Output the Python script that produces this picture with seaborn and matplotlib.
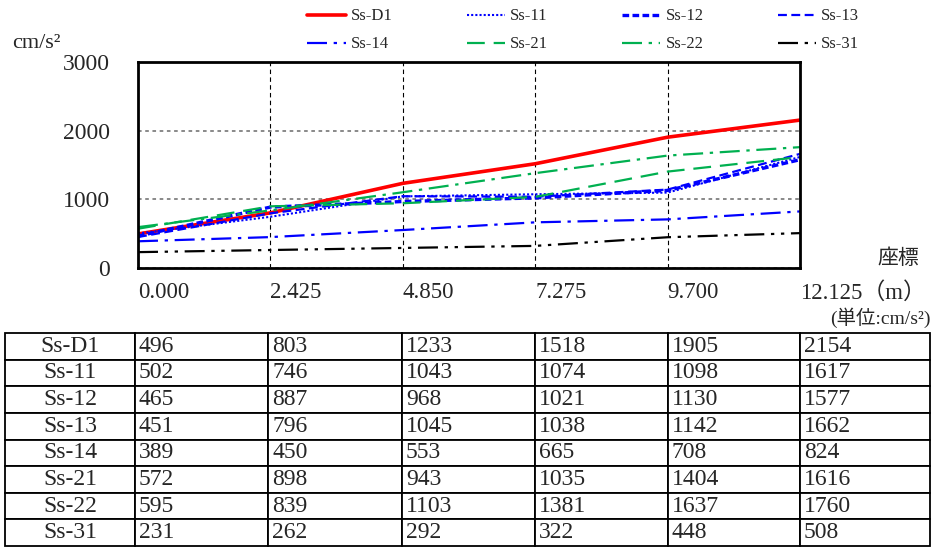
import numpy as np
import seaborn as sns
import matplotlib.pyplot as plt

# data
coords = ['0.000', '2.425', '4.850', '7.275', '9.700', '12.125（m）']
names = ['Ss-D1', 'Ss-11', 'Ss-12', 'Ss-13', 'Ss-14', 'Ss-21', 'Ss-22', 'Ss-31']
ss_d1 = [496, 803, 1233, 1518, 1905, 2154]
ss_11 = [502, 746, 1043, 1074, 1098, 1617]
ss_12 = [465, 887, 968, 1021, 1130, 1577]
ss_13 = [451, 796, 1045, 1038, 1142, 1662]
ss_14 = [389, 450, 553, 665, 708, 824]
ss_21 = [572, 898, 943, 1035, 1404, 1616]
ss_22 = [595, 839, 1103, 1381, 1637, 1760]
ss_31 = [231, 262, 292, 322, 448, 508]
values = [ss_d1, ss_11, ss_12, ss_13, ss_14, ss_21, ss_22, ss_31]

blue = '#0000FF'
green = '#00B050'
styles = [
    ('#FF0000', '-', 2.6),
    (blue, (0, (1, 1)), 1.5),
    (blue, (0, (2, 1)), 2.4),
    (blue, (0, (4, 2)), 1.6),
    (blue, (0, (9, 3, 1.5, 3)), 1.6),
    (green, (0, (8, 4)), 1.6),
    (green, (0, (9, 3, 1.5, 3)), 1.6),
    ('black', (0, (9, 3, 1.5, 3, 1.5, 3)), 1.6),
]

sns.set_style('white')
plt.rcParams['font.family'] = ['Liberation Serif', 'Noto Sans CJK JP']

fig = plt.figure(figsize=(9.33, 5.52), dpi=100)
ax = fig.add_axes([138 / 933, 1 - 268 / 552, 662 / 933, 206 / 552])

x = np.arange(len(coords))
for name, vals, (c, ls, lw) in zip(names, values, styles):
    sns.lineplot(x=x, y=vals, ax=ax, color=c, linestyle=ls, linewidth=lw, label=name)
if ax.get_legend():
    ax.get_legend().remove()

ax.set_xlim(0, 5)
ax.set_ylim(0, 3000)
ax.set_xticks(x)
ax.set_xticklabels(coords, ha='left', fontsize=16.5)
ax.set_yticks([0, 1000, 2000, 3000])
ax.set_yticklabels(['0', '1000', '2000', '3000'], fontsize=17)
ax.tick_params(axis='x', length=0, pad=10)
ax.tick_params(axis='y', length=0, pad=20)
ax.xaxis.grid(True, color='black', linestyle=(0, (4, 3)), linewidth=0.8)
ax.yaxis.grid(True, color='gray', linestyle=(0, (2, 2)), linewidth=1.3)
for s in ax.spines.values():
    s.set_color('black')
    s.set_linewidth(2)

# legend, row-major order
lines = ax.get_lines()[:len(names)]
order = [0, 4, 1, 5, 2, 6, 3, 7]
fig.legend([lines[i] for i in order], [names[i] for i in order],
           loc='upper left', bbox_to_anchor=(304 / 933, 1 - 5 / 552), ncol=4,
           frameon=False, fontsize=12, handlelength=2.3, handletextpad=0.3,
           columnspacing=4.45, labelspacing=0.72, borderaxespad=0, borderpad=0.2)

fig.text(12 / 933, 1 - 44 / 552, 'cm/s²', fontsize=16, va='center')
fig.text(898 / 933, 1 - 259 / 552, '座標', fontsize=15, ha='center', va='center')
fig.text(931 / 933, 1 - 318 / 552, '(単位:cm/s²)', fontsize=14, ha='right', va='center')

# table below
tax = fig.add_axes([5 / 933, 1 - 546 / 552, 925 / 933, 213 / 552])
tax.axis('off')
cell_text = [[n] + [str(v) for v in vals] for n, vals in zip(names, values)]
widths = [130, 133, 134, 133, 133, 132, 130]
tbl = tax.table(cellText=cell_text, colWidths=[w / sum(widths) for w in widths],
                bbox=[0, 0, 1, 1], cellLoc='left')
tbl.auto_set_font_size(False)
tbl.set_fontsize(17)
for (r, c), cell in tbl.get_celld().items():
    cell.set_linewidth(1.3)
    cell.PAD = 0.03
    if c == 0:
        cell.set_text_props(ha='center')

fig.savefig('out.png', dpi=100)
